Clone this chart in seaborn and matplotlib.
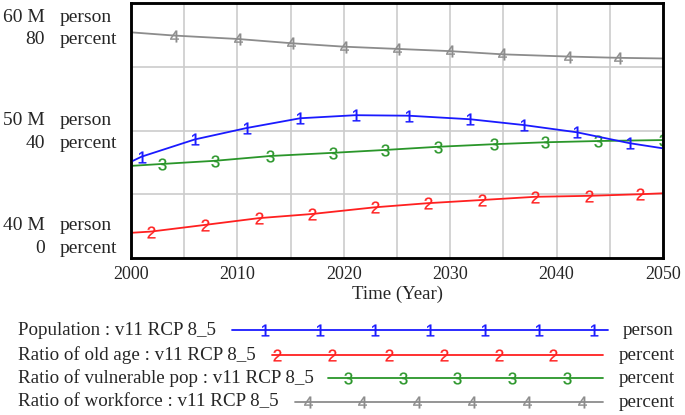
import matplotlib
matplotlib.use("Agg")
import matplotlib.pyplot as plt
import seaborn as sns
import pandas as pd

# ---------------- data ----------------
pop_years = [2000, 2001, 2006, 2010.9, 2015.9, 2021.1, 2026.1, 2031.9, 2036.9, 2041.9, 2046.9, 2050]
pop_values = [47.55, 47.95, 49.3, 50.2, 50.96, 51.2, 51.16, 50.88, 50.43, 49.86, 49.0, 48.6]  # million person

old_years = [2000, 2001.9, 2007, 2012, 2017, 2022.9, 2027.9, 2033, 2038, 2043, 2047.8, 2050]
old_values = [7.9, 8.3, 10.4, 12.5, 13.8, 15.9, 17.2, 18.2, 19.2, 19.5, 20.0, 20.3]  # percent

vul_years = [2000, 2002.9, 2007.9, 2013.1, 2019, 2023.9, 2028.9, 2034.1, 2038.9, 2043.9, 2050]
vul_values = [28.9, 29.5, 30.5, 32.0, 33.0, 33.9, 34.9, 35.7, 36.3, 36.7, 37.0]  # percent

wf_years = [2000, 2004, 2010.1, 2015, 2020, 2025, 2030, 2034.9, 2041.1, 2045.8, 2050]
wf_values = [70.8, 69.8, 68.7, 67.4, 66.3, 65.6, 64.9, 63.9, 63.2, 62.8, 62.6]  # percent

x_ticks = [2000, 2010, 2020, 2030, 2040, 2050]
person_ticks = ["40 M", "50 M", "60 M"]
percent_ticks = ["0", "40", "80"]
legend_labels = ["Population : v11 RCP 8_5", "Ratio of old age : v11 RCP 8_5",
                 "Ratio of vulnerable pop : v11 RCP 8_5", "Ratio of workforce : v11 RCP 8_5"]
legend_units = ["person", "percent", "percent", "percent"]
x_label = "Time (Year)"

# ---------------- style ----------------
sns.set_theme(style="white")
plt.rcParams["font.family"] = ["Liberation Serif", "DejaVu Serif"]
plt.rcParams["mathtext.fontset"] = "custom"
plt.rcParams["mathtext.rm"] = "Liberation Sans"
plt.rcParams["mathtext.it"] = "Liberation Sans"

BLUE = "#1a1aff"
RED = "#ff2020"
GREEN = "#2a962a"
GRAY = "#8c8c8c"
colors = [BLUE, RED, GREEN, GRAY]
marks = ["$1$", "$2$", "$3$", "$4$"]

W, H = 685, 415
fig = plt.figure(figsize=(W / 100, H / 100), dpi=100)
L, R, T, B = 131, 663, 3, 258
ax = fig.add_axes([L / W, 1 - B / H, (R - L) / W, (B - T) / H])
ax2 = ax.twinx()

ax.set_xlim(2000, 2050)
ax.set_ylim(0, 80)
ax2.set_ylim(40, 60)

for x in range(2005, 2050, 5):
    ax.axvline(x, color="#cccccc", lw=1.2, zorder=0)
for y in (20, 40, 60):
    ax.axhline(y, color="#cccccc", lw=1.2, zorder=0)

lw = 1.3
ms = 8.5
common = dict(estimator=None, sort=False, linewidth=lw, markersize=ms, markeredgewidth=0.2)
sns.lineplot(x=wf_years, y=wf_values, ax=ax, color=GRAY, marker=marks[3],
             markevery=slice(1, -1), markeredgecolor=GRAY, **common)
sns.lineplot(x=vul_years, y=vul_values, ax=ax, color=GREEN, marker=marks[2],
             markevery=slice(1, None), markeredgecolor=GREEN, **common)
sns.lineplot(x=old_years, y=old_values, ax=ax, color=RED, marker=marks[1],
             markevery=slice(1, -1), markeredgecolor=RED, **common)
sns.lineplot(x=pop_years, y=pop_values, ax=ax2, color=BLUE, marker=marks[0],
             markevery=slice(1, -1), markeredgecolor=BLUE, **common)

for a in (ax, ax2):
    a.set_xticks(x_ticks)
    a.tick_params(length=0)
    a.set_ylabel("")
    a.set_yticks([])
    for s in a.spines.values():
        s.set_color("black")
        s.set_linewidth(1.8)
ax.set_xticks(x_ticks)
ax.set_xticklabels([str(v) for v in x_ticks], fontsize=13)
ax.tick_params(axis="x", pad=6)
ax.set_xlabel(x_label, fontsize=13.5, labelpad=2)
ax.set_yticks([])
ax2.set_yticks([])

# overlay for y-axis labels and legend (pixel coordinates)
ov = fig.add_axes([0, 0, 1, 1], zorder=-1)
ov.set_xlim(0, W)
ov.set_ylim(H, 0)
ov.axis("off")

fs = 14
person_y = [225, 120, 17]
percent_y = [248, 143, 39.5]
for lab, y in zip(person_ticks, person_y):
    ov.text(45, y, lab, ha="right", va="center", fontsize=fs)
    ov.text(60, y, "person", ha="left", va="center", fontsize=fs)
for lab, y in zip(percent_ticks, percent_y):
    ov.text(45, y, lab, ha="right", va="center", fontsize=fs)
    ov.text(60, y, "percent", ha="left", va="center", fontsize=fs)

# legend
lfs = 13.7
rows_y = [330, 355, 378, 402]
line_x = [(232, 608), (272, 603), (328, 603), (295, 603)]
mark_x = [[265, 320, 375, 430, 485, 539, 594],
          [277, 332, 389, 444, 499, 553],
          [348, 403, 457, 512, 567],
          [308, 362, 417, 472, 527, 582]]
unit_x = [623, 619, 619, 619]
for i in range(4):
    y = rows_y[i]
    ov.text(18, y, legend_labels[i], ha="left", va="center", fontsize=lfs)
    ov.plot(line_x[i], [y, y], color=colors[i], lw=lw)
    ov.plot(mark_x[i], [y] * len(mark_x[i]), ls="none", marker=marks[i],
            color=colors[i], markersize=ms, markeredgewidth=0.2, markeredgecolor=colors[i])
    ov.text(unit_x[i], y, legend_units[i], ha="left", va="center", fontsize=lfs)

fig.savefig("out.png", dpi=100)
